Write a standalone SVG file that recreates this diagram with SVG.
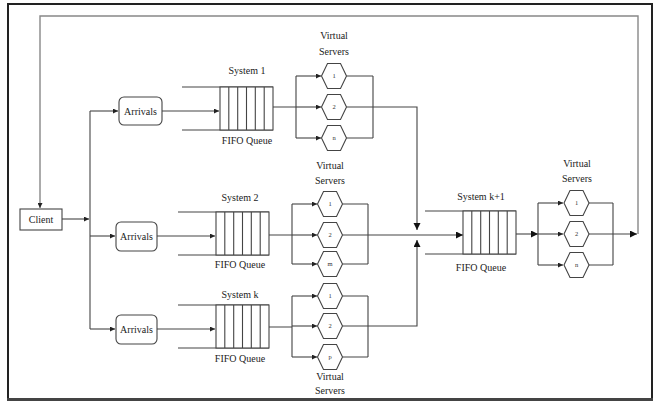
<svg xmlns="http://www.w3.org/2000/svg" width="666" height="403" viewBox="0 0 666 403">
<style>
  .ln{fill:none;stroke:#444;stroke-width:1.1}
  .loop{fill:none;stroke:#888;stroke-width:1.4}
  .box{fill:#fff;stroke:#444;stroke-width:1.1}
  .hex{fill:#fff;stroke:#444;stroke-width:1.1}
  .t{font-family:"Liberation Serif","Times New Roman","DejaVu Serif",serif;font-size:10px;fill:#222;text-anchor:middle}
  .h{font-family:"Liberation Serif","Times New Roman","DejaVu Serif",serif;font-size:6.5px;fill:#333;text-anchor:middle}
</style>
<defs>
  <marker id="a" markerUnits="userSpaceOnUse" markerWidth="6" markerHeight="5" refX="5" refY="2.5" orient="auto">
    <path d="M0,0 L5,2.5 L0,5 Z" fill="#222"/>
  </marker>
  <marker id="A" markerUnits="userSpaceOnUse" markerWidth="8" markerHeight="8" refX="7" refY="3.5" orient="auto">
    <path d="M0,0 L7,3.5 L0,7 Z" fill="#111"/>
  </marker>
  <polygon id="hx" points="-12.5,0 -6.5,-12.5 6.5,-12.5 12.5,0 6.5,12.5 -6.5,12.5" class="hex"/>
  <g id="q">
    <line x1="-38" y1="0" x2="53" y2="0" class="ln"/>
    <line x1="-38" y1="43" x2="53" y2="43" class="ln"/>
    <rect x="0" y="0" width="53" height="43" class="box"/>
    <path d="M8.8,0V43M17.7,0V43M26.5,0V43M35.3,0V43M44.2,0V43" class="ln"/>
  </g>
</defs>
<rect width="666" height="403" fill="#fff"/>
<rect x="8" y="4" width="644" height="395" fill="none" stroke="#222" stroke-width="2"/>
<line x1="7" y1="399.5" x2="653" y2="399.5" stroke="#444" stroke-width="3"/>

<g id="connectors">
  <path d="M638,234 V16 H40 V208" class="loop" marker-end="url(#a)"/>
  <path d="M62,219 H89" class="ln" marker-end="url(#a)"/>
  <path d="M90,111 V329" class="ln"/>
  <path d="M90,111 H118" class="ln" marker-end="url(#a)"/>
  <path d="M90,236 H115" class="ln" marker-end="url(#a)"/>
  <path d="M90,329 H115" class="ln" marker-end="url(#a)"/>
  <path d="M162,111 H219" class="ln" marker-end="url(#a)"/>
  <path d="M157,236 H215" class="ln" marker-end="url(#a)"/>
  <path d="M157,329 H215" class="ln" marker-end="url(#a)"/>
  <!-- system 1 servers -->
  <path d="M273,107 H296 M296,76 V138 M346.5,76 H373 M346.5,107 H373 M346.5,138 H373 M373,76 V138" class="ln"/>
  <path d="M296,76 H321" class="ln" marker-end="url(#a)"/>
  <path d="M296,107 H321" class="ln" marker-end="url(#a)"/>
  <path d="M296,138 H321" class="ln" marker-end="url(#a)"/>
  <path d="M373,107 H417 V230" class="ln" marker-end="url(#A)"/>
  <!-- system 2 servers -->
  <path d="M269,235 H292 M292,204 V264 M342.5,204 H368 M342.5,264 H368 M368,204 V264" class="ln"/>
  <path d="M292,204 H317" class="ln" marker-end="url(#a)"/>
  <path d="M292,235 H317" class="ln" marker-end="url(#a)"/>
  <path d="M292,264 H317" class="ln" marker-end="url(#a)"/>
  <path d="M342.5,235 H463" class="ln" marker-end="url(#A)"/>
  <!-- system k servers -->
  <path d="M269,327 H292 M292,296 V357 M342.5,296 H368 M342.5,326 H368 M342.5,357 H368 M368,296 V357" class="ln"/>
  <path d="M292,296 H317" class="ln" marker-end="url(#a)"/>
  <path d="M292,326 H317" class="ln" marker-end="url(#a)"/>
  <path d="M292,357 H317" class="ln" marker-end="url(#a)"/>
  <path d="M368,326 H417 V240" class="ln" marker-end="url(#A)"/>
  <!-- system k+1 servers -->
  <path d="M516,234 H538" class="ln" marker-end="url(#A)"/>
  <path d="M538,203 V265 M589,203 H613 M589,265 H613 M613,203 V265" class="ln"/>
  <path d="M538,203 H563" class="ln" marker-end="url(#a)"/>
  <path d="M538,234 H563" class="ln" marker-end="url(#a)"/>
  <path d="M538,265 H563" class="ln" marker-end="url(#a)"/>
  <path d="M589,234 H637" class="ln" marker-end="url(#A)"/>
</g>

<g id="client">
  <rect x="20" y="209" width="42" height="21" class="box"/>
  <text x="41" y="223" class="t">Client</text>
</g>

<g id="arrivals1">
  <rect x="119" y="97" width="43" height="28" rx="5" class="box"/>
  <text x="140.5" y="114.5" class="t">Arrivals</text>
</g>
<g id="arrivals2">
  <rect x="116" y="222" width="41" height="29" rx="5" class="box"/>
  <text x="136.5" y="240" class="t">Arrivals</text>
</g>
<g id="arrivalsk">
  <rect x="116" y="315" width="41" height="29" rx="5" class="box"/>
  <text x="136.5" y="333" class="t">Arrivals</text>
</g>

<g id="queue1">
  <use href="#q" x="220" y="87"/>
  <text x="247" y="73.5" class="t">System 1</text>
  <text x="247" y="143.5" class="t">FIFO Queue</text>
</g>
<g id="queue2">
  <use href="#q" x="216" y="212"/>
  <text x="240" y="200.5" class="t">System 2</text>
  <text x="240" y="267.5" class="t">FIFO Queue</text>
</g>
<g id="queuek">
  <use href="#q" x="216" y="305"/>
  <text x="240" y="297.5" class="t">System k</text>
  <text x="240" y="361.5" class="t">FIFO Queue</text>
</g>
<g id="queuek1">
  <use href="#q" x="463" y="211"/>
  <text x="481" y="199.5" class="t">System k+1</text>
  <text x="481" y="270.5" class="t">FIFO Queue</text>
</g>

<g id="servers1">
  <text x="334" y="38.5" class="t">Virtual</text>
  <text x="334" y="54.5" class="t">Servers</text>
  <use href="#hx" x="334" y="76"/><text x="334" y="78" class="h">1</text>
  <use href="#hx" x="334" y="107"/><text x="334" y="109" class="h">2</text>
  <use href="#hx" x="334" y="138"/><text x="334" y="140" class="h">n</text>
</g>
<g id="servers2">
  <text x="330" y="168.5" class="t">Virtual</text>
  <text x="330" y="183.5" class="t">Servers</text>
  <use href="#hx" x="330" y="204"/><text x="330" y="206" class="h">1</text>
  <use href="#hx" x="330" y="235"/><text x="330" y="237" class="h">2</text>
  <use href="#hx" x="330" y="264"/><text x="330" y="266" class="h">m</text>
</g>
<g id="serversk">
  <use href="#hx" x="330" y="296"/><text x="330" y="298" class="h">1</text>
  <use href="#hx" x="330" y="326"/><text x="330" y="328" class="h">2</text>
  <use href="#hx" x="330" y="357"/><text x="330" y="359" class="h">p</text>
  <text x="330" y="380" class="t">Virtual</text>
  <text x="330" y="394" class="t">Servers</text>
</g>
<g id="serversk1">
  <text x="577" y="166.5" class="t">Virtual</text>
  <text x="577" y="181.5" class="t">Servers</text>
  <use href="#hx" x="576.5" y="203"/><text x="576.5" y="205" class="h">1</text>
  <use href="#hx" x="576.5" y="234"/><text x="576.5" y="236" class="h">2</text>
  <use href="#hx" x="576.5" y="265"/><text x="576.5" y="267" class="h">n</text>
</g>
</svg>
